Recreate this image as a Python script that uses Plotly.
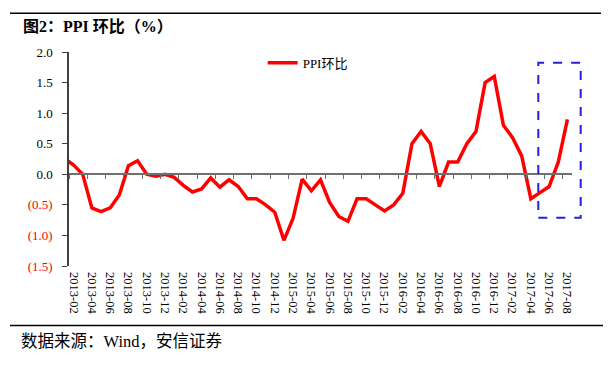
import plotly.graph_objects as go

months = [
    "2013-01", "2013-02", "2013-03", "2013-04", "2013-05", "2013-06", "2013-07", "2013-08",
    "2013-09", "2013-10", "2013-11", "2013-12", "2014-01", "2014-02", "2014-03", "2014-04",
    "2014-05", "2014-06", "2014-07", "2014-08", "2014-09", "2014-10", "2014-11", "2014-12",
    "2015-01", "2015-02", "2015-03", "2015-04", "2015-05", "2015-06", "2015-07", "2015-08",
    "2015-09", "2015-10", "2015-11", "2015-12", "2016-01", "2016-02", "2016-03", "2016-04",
    "2016-05", "2016-06", "2016-07", "2016-08", "2016-09", "2016-10", "2016-11", "2016-12",
    "2017-01", "2017-02", "2017-03", "2017-04", "2017-05", "2017-06", "2017-07", "2017-08",
]
ppi_mom = [
    0.26, 0.15, 0.0, -0.55, -0.61, -0.55, -0.34, 0.14,
    0.22, 0.0, -0.03, 0.0, -0.05, -0.18, -0.29, -0.24,
    -0.06, -0.21, -0.09, -0.2, -0.4, -0.4, -0.5, -0.62,
    -1.08, -0.72, -0.08, -0.27, -0.09, -0.46, -0.69, -0.77,
    -0.4, -0.4, -0.5, -0.6, -0.5, -0.31, 0.5, 0.7,
    0.5, -0.2, 0.2, 0.2, 0.5, 0.7, 1.5, 1.6,
    0.8, 0.6, 0.3, -0.4, -0.3, -0.2, 0.2, 0.9,
]
y_ticks = [-1.5, -1.0, -0.5, 0.0, 0.5, 1.0, 1.5, 2.0]
series_name = "PPI环比"
title_text = "<b>图2：PPI 环比（%）</b>"
source_text = "数据来源：Wind，安信证券"

idx = list(range(len(months)))
label_idx = idx[1::2]
label_txt = months[1::2]
boundary_ticks = [i - 0.5 for i in label_idx]

def ylab(v):
    if v < 0:
        return '<span style="color:#FF0000">(%.1f)</span>' % abs(v)
    return "%.1f" % v

SERIF = "Liberation Serif, Times New Roman, Noto Sans CJK SC, serif"

fig = go.Figure()
fig.add_trace(go.Scatter(
    x=idx, y=ppi_mom, mode="lines", name=series_name,
    line=dict(color="#FF0000", width=3.5), xaxis="x", yaxis="y",
))
fig.add_trace(go.Scatter(
    x=idx, y=ppi_mom, mode="lines", showlegend=False, hoverinfo="skip",
    line=dict(width=0), opacity=0, xaxis="x2", yaxis="y",
))

xr = [0.5, len(months) - 0.5]
yr = [-1.5, 2.0]
zero_pos = (0 - yr[0]) / (yr[1] - yr[0])

# page body has an 8px margin; figure is sized so that the page matches 613x365
fig.update_layout(
    width=605, height=357,
    margin=dict(l=61, r=41, t=44, b=99),
    paper_bgcolor="white", plot_bgcolor="white",
    font=dict(family=SERIF, size=13, color="#000000"),
    xaxis=dict(
        range=xr, showgrid=False, zeroline=False, showline=False,
        tickmode="array", tickvals=label_idx, ticktext=label_txt,
        tickangle=90, ticks="", tickfont=dict(size=12.5, family=SERIF),
        ticklabelstandoff=5,
    ),
    xaxis2=dict(
        range=xr, overlaying="x", anchor="free", position=zero_pos,
        showgrid=False, zeroline=False, showline=True, linecolor="#707070",
        linewidth=1.5, ticks="outside", ticklen=4, tickwidth=1.2,
        tickcolor="#707070", tickmode="array", tickvals=boundary_ticks,
        showticklabels=False,
    ),
    yaxis=dict(
        range=yr, showgrid=False, zeroline=False, showline=True,
        linecolor="#404040", linewidth=1.5, ticks="outside", ticklen=5,
        tickwidth=1.2, tickcolor="#404040", tickmode="array",
        tickvals=y_ticks, ticktext=[ylab(v) for v in y_ticks],
        tickfont=dict(size=13, family=SERIF), ticklabelstandoff=7,
    ),
    showlegend=True,
    legend=dict(
        x=0.385, y=0.95, xanchor="left", yanchor="middle",
        bgcolor="rgba(0,0,0,0)", font=dict(size=13, family=SERIF),
        itemwidth=30,
    ),
)

W, H = 503.0, 214.0
def px_x(p):
    return (p - 69) / W
def px_y(p):
    return (266 - p) / H

fig.add_shape(type="line", xref="paper", yref="paper",
              x0=px_x(10), x1=px_x(601), y0=px_y(13.3), y1=px_y(13.3),
              line=dict(color="black", width=1.5))
fig.add_shape(type="line", xref="paper", yref="paper",
              x0=px_x(10), x1=px_x(603), y0=px_y(325.5), y1=px_y(325.5),
              line=dict(color="black", width=1.5))
fig.add_shape(type="rect", xref="paper", yref="paper",
              x0=px_x(538.3), x1=px_x(580.7), y0=px_y(217.7), y1=px_y(62.7),
              line=dict(color="#2222DD", width=2, dash="dash"))

fig.add_annotation(text=title_text, xref="paper", yref="paper",
                   x=px_x(21), y=px_y(26.5), xanchor="left", yanchor="middle",
                   showarrow=False, font=dict(size=16, family=SERIF, color="black"))
fig.add_annotation(text=source_text, xref="paper", yref="paper",
                   x=px_x(19), y=px_y(341), xanchor="left", yanchor="middle",
                   showarrow=False, font=dict(size=16.5, family=SERIF, color="black"))

fig.write_html("out.html")
